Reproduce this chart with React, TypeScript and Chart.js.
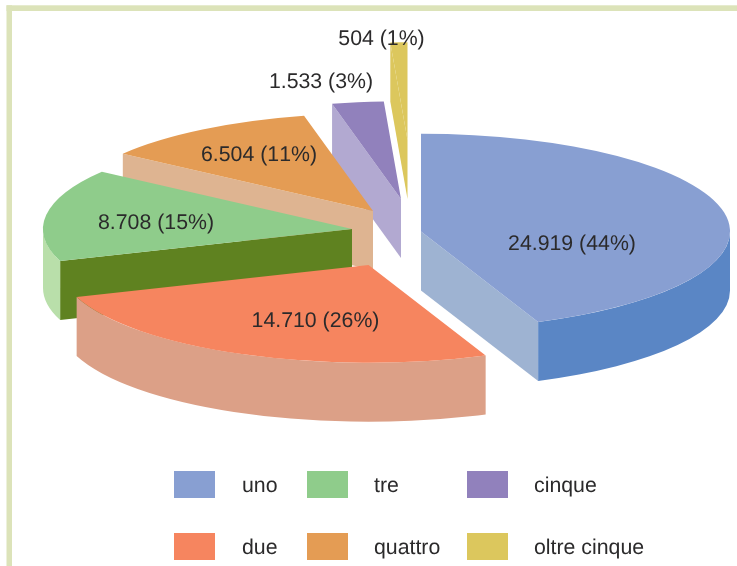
import React, { useEffect, useRef } from "react";
import { Chart, registerables } from "chart.js";

Chart.register(...registerables);

const categories = ["uno", "due", "tre", "quattro", "cinque", "oltre cinque"];
const values = [24919, 14710, 8708, 6504, 1533, 504];
const valueTexts = ["24.919", "14.710", "8.708", "6.504", "1.533", "504"];

const topColours = ["#889fd2", "#f6855f", "#8fcc8b", "#e49c54", "#9181bc", "#dcc75d"];
const sideColours = ["#5a86c5", "#dca087", "#b9dfaa", "#deb491", "#b2a9d1", "#dcc75d"];
const cutColours = ["#9eb3d2", "#dca087", "#5f8220", "#deb491", "#b2a9d1", "#dcc75d"];

// Where each exploded slice sits relative to the chart centre (dx, dy).
const explodeX = [52.5, 0, -16.5, 4.5, 32.5, 39];
const explodeY = [-51.5, -18, -54, -72, -84, -143];
// Where each value label sits relative to its slice centre.
const labelDX = [151, -53, -196, -114, -80, -26];
const labelDY = [12.5, 56, -6, -56, -117, -101];

const RADIUS = 309;
const SQUASH = 97.7 / 309;
const DEPTH = 59;
const FONT = '21.3px "Liberation Sans", Arial, sans-serif';
const TEXT = "#2b2a2b";
const FRAME = "#dce3b9";

const legendX = [174, 307, 467];
const legendTextX = [242, 374, 534];
const legendY = [471, 533];
const legendBoxW = 41;
const legendBoxH = 27;

const pie3d = {
  id: "pie3d",
  beforeDraw(chart: any) {
    const { ctx, width, height } = chart;
    ctx.save();
    ctx.fillStyle = "#ffffff";
    ctx.fillRect(0, 0, width, height);
    ctx.fillStyle = FRAME;
    ctx.fillRect(6.5, 5.3, width - 6.5, 5.7);
    ctx.fillRect(6.5, 5.3, 5.5, height - 5.3);
    ctx.restore();
  },
  beforeDatasetsDraw(chart: any) {
    const { ctx } = chart;
    const arcs = chart.getDatasetMeta(0).data;
    for (let i = arcs.length - 1; i >= 0; i--) {
      const arc = arcs[i];
      const R = arc.outerRadius;
      const rY = R * SQUASH;
      const cx = arc.x + explodeX[i];
      const cy = arc.y + explodeY[i];
      const t1 = arc.startAngle;
      const t2 = arc.endAngle;
      const cut = (t: number) => {
        const px = cx + R * Math.cos(t);
        const py = cy + rY * Math.sin(t);
        ctx.fillStyle = cutColours[i];
        ctx.beginPath();
        ctx.moveTo(cx, cy);
        ctx.lineTo(px, py);
        ctx.lineTo(px, py + DEPTH);
        ctx.lineTo(cx, cy + DEPTH);
        ctx.closePath();
        ctx.fill();
      };
      ctx.save();
      // A cut face shows only when its wall faces the viewer.
      const fromTop = (t: number) => t + Math.PI / 2; // clockwise angle from 12 o'clock
      if (fromTop(t1) > Math.PI + 1e-6) cut(t1);
      if (fromTop(t2) < Math.PI - 1e-6) cut(t2);
      // Outer wall: only the front half of the rim (canvas angle 0..PI).
      const a = Math.max(t1, 0);
      const b = Math.min(t2, Math.PI);
      if (b > a) {
        ctx.fillStyle = sideColours[i];
        ctx.beginPath();
        ctx.ellipse(cx, cy, R, rY, 0, a, b, false);
        ctx.lineTo(cx + R * Math.cos(b), cy + rY * Math.sin(b) + DEPTH);
        ctx.ellipse(cx, cy + DEPTH, R, rY, 0, b, a, true);
        ctx.closePath();
        ctx.fill();
      }
      // Top face: the library's own arc, under a squashing transform.
      ctx.translate(cx, cy);
      ctx.scale(1, SQUASH);
      ctx.translate(-arc.x, -arc.y);
      arc.draw(ctx);
      ctx.restore();
    }
    return false;
  },
  afterDraw(chart: any) {
    const { ctx } = chart;
    const arcs = chart.getDatasetMeta(0).data;
    const total = values.reduce((s, v) => s + v, 0);
    ctx.save();
    ctx.font = FONT;
    ctx.fontKerning = "none";
    ctx.textRendering = "geometricPrecision";
    ctx.fillStyle = TEXT;
    ctx.textBaseline = "middle";
    ctx.textAlign = "center";
    arcs.forEach((arc: any, i: number) => {
      const pct = Math.round((values[i] / total) * 100);
      ctx.fillText(
        `${valueTexts[i]} (${pct}%)`,
        arc.x + explodeX[i] + labelDX[i],
        arc.y + explodeY[i] + labelDY[i]
      );
    });
    ctx.textAlign = "left";
    categories.forEach((name, i) => {
      const col = Math.floor(i / 2);
      const row = i % 2;
      ctx.fillStyle = topColours[i];
      ctx.fillRect(legendX[col], legendY[row], legendBoxW, legendBoxH);
      ctx.fillStyle = TEXT;
      ctx.fillText(name, legendTextX[col], legendY[row] + legendBoxH / 2 + 1.5);
    });
    ctx.restore();
  },
};

export default function App() {
  const ref = useRef<HTMLCanvasElement | null>(null);
  useEffect(() => {
    const chart = new Chart(ref.current as HTMLCanvasElement, {
      type: "pie",
      data: {
        labels: categories,
        datasets: [
          {
            data: values,
            backgroundColor: topColours,
            borderWidth: 0,
          },
        ],
      },
      options: {
        animation: false,
        responsive: false,
        devicePixelRatio: 1,
        radius: RADIUS,
        layout: { padding: 0 },
        plugins: { legend: { display: false }, tooltip: { enabled: false } },
      } as any,
      plugins: [pie3d as any],
    });
    return () => chart.destroy();
  }, []);
  return (
    <canvas
      ref={ref}
      width={737}
      height={566}
      style={{ position: "fixed", left: 0, top: 0, display: "block" }}
    />
  );
}
